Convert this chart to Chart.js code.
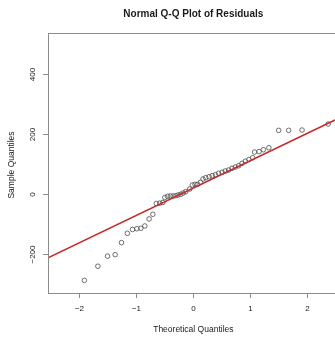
<!DOCTYPE html>
<html>
<head>
<meta charset="utf-8">
<script src="https://cdn.jsdelivr.net/npm/chart.js@4/dist/chart.umd.min.js"></script>
<style>
html,body{margin:0;padding:0;background:#fff;overflow:hidden;width:335px;height:337px;}
#wrap{width:345px;height:337px;}
</style>
</head>
<body>
<div id="wrap"><canvas id="c" width="345" height="337"></canvas></div>
<script>
// ---- data ----
const chartTitle = "Normal Q-Q Plot of Residuals";
const xTitle = "Theoretical Quantiles";
const yTitle = "Sample Quantiles";
const xTickValues = [-2, -1, 0, 1, 2];
const yTickValues = [-200, 0, 200, 400];
const xRange = [-2.55, 2.55];
const yRange = [-329, 535];
const theoreticalQuantiles = [
  -1.912, -1.675, -1.505, -1.372, -1.260, -1.158, -1.067, -0.991, -0.921, -0.851,
  -0.777, -0.711, -0.649, -0.591, -0.535, -0.500, -0.453, -0.404, -0.356, -0.307,
  -0.267, -0.223, -0.179, -0.135, -0.064, -0.018, 0.029, 0.075, 0.123, 0.170,
  0.216, 0.275, 0.330, 0.388, 0.442, 0.504, 0.561, 0.619, 0.679, 0.737,
  0.795, 0.854, 0.912, 0.974, 1.040, 1.074, 1.154, 1.228, 1.325, 1.497,
  1.672, 1.907, 2.365
];
const sampleQuantiles = [
  -287, -240, -206.5, -201.5, -161.7, -130.5, -117.9, -115.5, -113.9, -106.2,
  -83, -67.4, -31.5, -30.5, -28.2, -11.6, -7.6, -6.6, -6.6, -5.6,
  -3.3, -1, 3.3, 7.6, 16.6, 29.9, 32.2, 32.2, 38.8, 49.8,
  54.1, 57.4, 60.8, 64.1, 68.7, 72, 76.4, 79.7, 85.3, 89.6,
  94, 101.9, 108.9, 114.5, 120.5, 139.4, 141.1, 147.1, 153.7, 211.5,
  211.5, 212.5, 232.4
];
const fitIntercept = 20;
const fitSlope = 91;

const points = theoreticalQuantiles.map((x, i) => ({x: x, y: sampleQuantiles[i]}));
const linePts = xRange.map(x => ({x: x, y: fitIntercept + fitSlope * x}));

const FONT = "'Liberation Sans', Arial, sans-serif";
const TXT = '#1a1a1a';

const rStyle = {
  id: 'rStyle',
  afterDraw(chart) {
    const ctx = chart.ctx;
    const a = chart.chartArea;
    const xs = chart.scales.x, ys = chart.scales.y;
    ctx.save();
    // box
    ctx.strokeStyle = '#8c8c8c';
    ctx.lineWidth = 1;
    ctx.strokeRect(Math.round(a.left) + 0.5, Math.round(a.top) + 0.5,
      Math.round(a.right - a.left), Math.round(a.bottom - a.top));
    // x ticks
    ctx.fillStyle = TXT;
    ctx.font = '8px ' + FONT;
    ctx.textAlign = 'center';
    ctx.textBaseline = 'middle';
    xTickValues.forEach(v => {
      const px = Math.round(xs.getPixelForValue(v)) + 0.5;
      ctx.beginPath();
      ctx.moveTo(px, a.bottom);
      ctx.lineTo(px, a.bottom + 5);
      ctx.stroke();
      ctx.fillText(v < 0 ? '\u2212' + Math.abs(v) : String(v), px, a.bottom + 16);
    });
    // y ticks
    yTickValues.forEach(v => {
      const py = Math.round(ys.getPixelForValue(v)) + 0.5;
      ctx.beginPath();
      ctx.moveTo(a.left - 5, py);
      ctx.lineTo(a.left, py);
      ctx.stroke();
      ctx.save();
      ctx.translate(a.left - 15, py);
      ctx.rotate(-Math.PI / 2);
      ctx.fillText(v < 0 ? '\u2212' + Math.abs(v) : String(v), 0, 0);
      ctx.restore();
    });
    // axis titles
    ctx.font = '8.5px ' + FONT;
    ctx.fillText(xTitle, (a.left + a.right) / 2, a.bottom + 37);
    ctx.save();
    ctx.translate(12, (a.top + a.bottom) / 2 + 2);
    ctx.rotate(-Math.PI / 2);
    ctx.fillText(yTitle, 0, 0);
    ctx.restore();
    // main title
    ctx.font = 'bold 10px ' + FONT;
    ctx.fillText(chartTitle, (a.left + a.right) / 2, 14);
    ctx.restore();
  }
};

new Chart(document.getElementById('c'), {
  type: 'scatter',
  data: {
    datasets: [
      {
        label: 'qqline',
        data: linePts,
        showLine: true,
        borderColor: '#c42b2b',
        borderWidth: 1.6,
        pointRadius: 0,
        fill: false,
        order: 0
      },
      {
        label: 'residuals',
        data: points,
        pointStyle: 'circle',
        pointRadius: 2.3,
        pointBorderWidth: 0.8,
        pointBorderColor: '#4a4a4a',
        pointBackgroundColor: 'rgba(0,0,0,0)',
        order: 1
      }
    ]
  },
  options: {
    responsive: false,
    animation: false,
    devicePixelRatio: 1,
    layout: {padding: {top: 33, right: 6.3, left: 0, bottom: 0}},
    plugins: {legend: {display: false}, tooltip: {enabled: false}, title: {display: false}},
    scales: {
      x: {
        type: 'linear', min: xRange[0], max: xRange[1],
        ticks: {display: false},
        grid: {display: false},
        border: {display: false},
        afterBuildTicks: s => { s.ticks = xTickValues.map(v => ({value: v})); },
        afterFit: s => { s.height = 44; }
      },
      y: {
        type: 'linear', min: yRange[0], max: yRange[1],
        ticks: {display: false},
        grid: {display: false},
        border: {display: false},
        afterBuildTicks: s => { s.ticks = yTickValues.map(v => ({value: v})); },
        afterFit: s => { s.width = 48; }
      }
    }
  },
  plugins: [rStyle]
});
</script>
</body>
</html>
